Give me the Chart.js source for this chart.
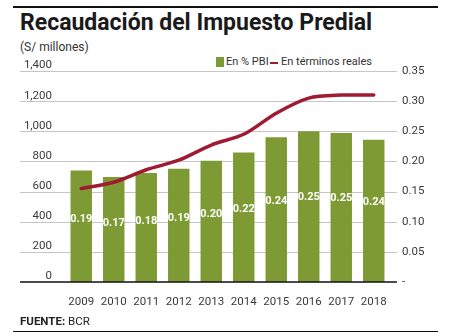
<!DOCTYPE html>
<html>
<head>
<meta charset="utf-8">
<script src="https://cdn.jsdelivr.net/npm/chart.js@4.4.0/dist/chart.umd.min.js"></script>
<style>
  html,body{margin:0;padding:0;background:#fff;}
  body{width:449px;height:332px;position:relative;overflow:hidden;font-family:Roboto,"Open Sans",sans-serif;color:#333;}
  .rule{position:absolute;left:13px;width:425px;height:1.5px;background:#111;}
  #title{position:absolute;left:20px;top:9px;font-weight:700;font-size:23px;color:#1a1a1a;white-space:nowrap;}
  #sub{position:absolute;left:20px;top:40px;font-size:12px;color:#333;white-space:nowrap;}
  .leg{position:absolute;font-size:11px;color:#333;white-space:nowrap;top:55px;}
  #sw1{position:absolute;left:216px;top:57px;width:8px;height:10px;background:#7e9a35;}
  #sw2{position:absolute;left:270px;top:62px;width:8px;height:2px;background:#9e1b32;}
  #foot{position:absolute;left:20px;top:314px;font-size:11.5px;color:#222;white-space:nowrap;}
  canvas{position:absolute;left:0;top:0;}
</style>
</head>
<body>
<div class="rule" style="top:6px"></div>
<div id="title">Recaudación del Impuesto Predial</div>
<div id="sub">(S/ millones)</div>
<div id="sw1"></div><div class="leg" style="left:226px">En % PBI</div>
<div id="sw2"></div><div class="leg" style="left:281px">En términos reales</div>
<canvas id="c" width="449" height="332"></canvas>
<div id="foot"><b>FUENTE:</b> BCR</div>
<div class="rule" style="top:331px"></div>
<script>
const years = ['2009','2010','2011','2012','2013','2014','2015','2016','2017','2018'];
const pbiShare = [0.185,0.174,0.181,0.188,0.201,0.215,0.240,0.250,0.247,0.236];
const pbiLabels = ['0.19','0.17','0.18','0.19','0.20','0.22','0.24','0.25','0.25','0.24'];
const realTerms = [620,662,745,808,909,980,1120,1220,1240,1240];
const leftTicks = [0,200,400,600,800,1000,1200,1400];
const leftTickLabels = ['0','200','400','600','800','1,000','1,200','1,400'];
const rightTickLabels = ['-','0.05','0.10','0.15','0.20','0.25','0.30','0.35'];

const GRID_L = 20, GRID_R = 397;

const gridPlugin = {
  id:'grid',
  beforeDatasetsDraw(chart){
    const ctx = chart.ctx, y = chart.scales.y;
    ctx.save();
    leftTicks.forEach(v=>{
      if(v===0) return;
      const py = Math.round(y.getPixelForValue(v))+0.5;
      ctx.strokeStyle='#c6c6c6'; ctx.lineWidth=1;
      ctx.beginPath(); ctx.moveTo(GRID_L,py); ctx.lineTo(GRID_R,py); ctx.stroke();
    });
    ctx.fillStyle='#3a3a3a';
    ctx.font='11.5px Roboto';
    ctx.textAlign='right'; ctx.textBaseline='middle';
    leftTicks.forEach((v,i)=>{
      const py = y.getPixelForValue(v);
      ctx.fillText(leftTickLabels[i], 52, py-5.5);
    });
    ctx.restore();
  },
  afterDatasetsDraw(chart){
    const ctx = chart.ctx, y = chart.scales.y;
    ctx.save();
    const py = y.getPixelForValue(0);
    ctx.strokeStyle='#111'; ctx.lineWidth=1.5;
    ctx.beginPath(); ctx.moveTo(GRID_L,py); ctx.lineTo(GRID_R,py); ctx.stroke();
    const meta = chart.getDatasetMeta(1);
    ctx.fillStyle='#fff'; ctx.font='bold 11px Roboto';
    ctx.textAlign='center'; ctx.textBaseline='middle';
    meta.data.forEach((el,i)=>{
      const ty = el.base - 0.56*(el.base-el.y);
      ctx.fillText(pbiLabels[i], el.x, ty);
    });
    ctx.restore();
  }
};

new Chart(document.getElementById('c'),{
  data:{
    labels:years,
    datasets:[
      {type:'line',label:'En términos reales',data:realTerms,yAxisID:'y',order:0,
       borderColor:'#9e1b32',borderWidth:3.5,pointRadius:0,tension:0.3,fill:false,borderCapStyle:'round'},
      {type:'bar',label:'En % PBI',data:pbiShare,yAxisID:'y2',order:1,
       backgroundColor:'#7e9a35',categoryPercentage:1,barPercentage:0.66}
    ]
  },
  options:{
    responsive:false,animation:false,devicePixelRatio:1,
    layout:{padding:{left:65,top:71,right:0,bottom:0}},
    plugins:{legend:{display:false},tooltip:{enabled:false}},
    scales:{
      x:{grid:{display:false,drawTicks:false},border:{display:false},
         ticks:{color:'#3a3a3a',font:{family:'Roboto',size:11.5},padding:13,maxRotation:0},
         afterFit(s){s.height=50;}},
      y:{position:'left',display:false,min:0,max:1400,ticks:{stepSize:200}},
      y2:{position:'right',min:0,max:0.35,
          grid:{display:false,drawTicks:false},border:{display:false},
          ticks:{stepSize:0.05,padding:12,color:'#3a3a3a',font:{family:'Roboto',size:11.5},
                 callback:(v,i)=>rightTickLabels[i]},
          afterFit(s){s.width=59;}}
    }
  },
  plugins:[gridPlugin]
});
</script>
</body>
</html>
